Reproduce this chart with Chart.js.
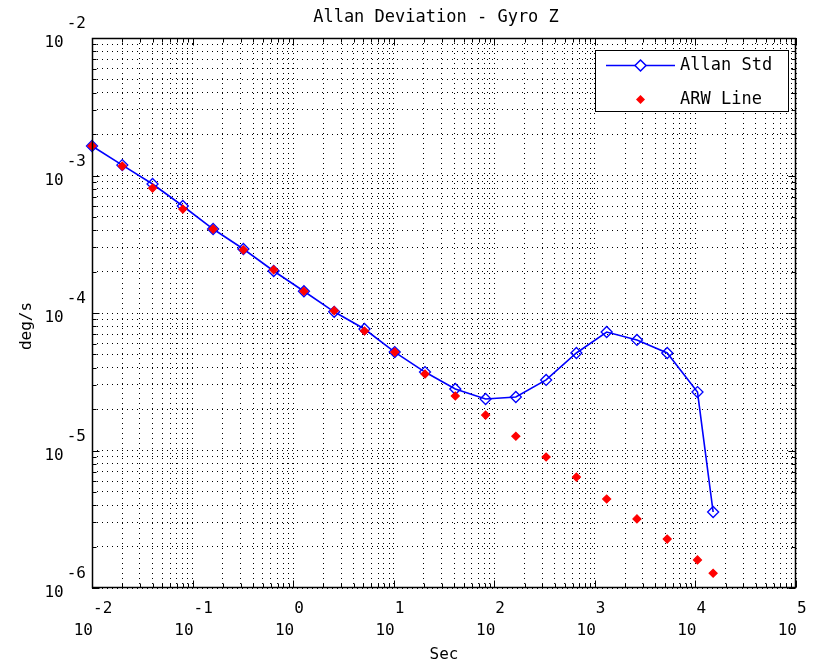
<!DOCTYPE html>
<html>
<head>
<meta charset="utf-8">
<script src="https://cdn.jsdelivr.net/npm/chart.js@4.4.0/dist/chart.umd.min.js"></script>
<style>
  html, body { margin: 0; padding: 0; background: #fff; }
</style>
</head>
<body>
<canvas id="c" width="813" height="666"></canvas>
<script>
// ── DATA ───────────────────────────────────────────────────────
const tau = [0.01, 0.02, 0.04, 0.08, 0.16, 0.32, 0.64, 1.28, 2.56, 5.12, 10.24,
  20.48, 40.96, 81.92, 163.84, 327.68, 655.36, 1310.72, 2621.44, 5242.88, 10485.76, 15000];
const allanStd = [1.64e-3, 1.19e-3, 8.67e-4, 6.0e-4, 4.08e-4, 2.92e-4, 2.02e-4, 1.44e-4,
  1.02e-4, 7.65e-5, 5.2e-5, 3.72e-5, 2.80e-5, 2.37e-5, 2.45e-5, 3.26e-5, 5.12e-5,
  7.27e-5, 6.37e-5, 5.12e-5, 2.66e-5, 3.57e-6];
const arwLine = [1.64e-3, 1.17e-3, 8.1e-4, 5.7e-4, 4.08e-4, 2.88e-4, 2.06e-4, 1.44e-4,
  1.04e-4, 7.4e-5, 5.2e-5, 3.6e-5, 2.49e-5, 1.81e-5, 1.27e-5, 8.97e-6, 6.41e-6,
  4.44e-6, 3.18e-6, 2.27e-6, 1.60e-6, 1.28e-6];
const xDecades = [-2, -1, 0, 1, 2, 3, 4, 5];
const yDecades = [-2, -3, -4, -5, -6];
const seriesNames = ['Allan Std', 'ARW Line'];

const BLUE = '#0000ff';
const RED = '#ff0000';
const MONO = "'DejaVu Sans Mono', monospace";

// every 1..9 x 10^n tick inside the decade range
function logTicks(lo, hi) {
  const out = [];
  for (let n = lo; n < hi; n++) {
    for (let m = 1; m <= 9; m++) out.push({ value: m * Math.pow(10, n) });
  }
  out.push({ value: Math.pow(10, hi) });
  return out;
}
const isMajor = v => Math.abs(Math.log10(v) - Math.round(Math.log10(v))) < 1e-9;

function diamond(ctx, cx, cy, r, fill) {
  ctx.beginPath();
  ctx.moveTo(cx, cy - r); ctx.lineTo(cx + r, cy);
  ctx.lineTo(cx, cy + r); ctx.lineTo(cx - r, cy);
  ctx.closePath();
  if (fill) { ctx.fillStyle = fill; ctx.fill(); }
  else ctx.stroke();
}

// ── MATLAB STYLE FRAME, LABELS, LEGEND ─────────────────────────
const matlabFrame = {
  id: 'matlabFrame',
  afterDraw(chart) {
    const { ctx, chartArea: a, scales: { x, y } } = chart;
    const L = Math.round(a.left) + 0.5, R = Math.round(a.right) - 0.5;
    const T = Math.round(a.top) + 0.5, B = Math.round(a.bottom) - 0.5;
    ctx.save();
    ctx.strokeStyle = '#000';
    ctx.lineWidth = 1;
    ctx.setLineDash([]);

    // inward ticks on all sides
    ctx.beginPath();
    x.ticks.forEach(t => {
      const px = Math.round(x.getPixelForValue(t.value)) + 0.5;
      const len = isMajor(t.value) ? 7 : 4;
      ctx.moveTo(px, B); ctx.lineTo(px, B - len);
      ctx.moveTo(px, T); ctx.lineTo(px, T + len);
    });
    y.ticks.forEach(t => {
      const py = Math.round(y.getPixelForValue(t.value)) + 0.5;
      const len = isMajor(t.value) ? 7 : 4;
      ctx.moveTo(L, py); ctx.lineTo(L + len, py);
      ctx.moveTo(R, py); ctx.lineTo(R - len, py);
    });
    ctx.stroke();
    ctx.lineWidth = 1.5;
    ctx.strokeRect(L, T, R - L, B - T);
    ctx.lineWidth = 1;

    // tick labels: "10" with raised exponent
    ctx.fillStyle = '#000';
    ctx.font = '16px ' + MONO;
    ctx.textBaseline = 'alphabetic';
    xDecades.forEach(d => {
      const px = x.getPixelForValue(Math.pow(10, d));
      ctx.textAlign = 'right';
      ctx.fillText('10', px + 1, 635);
      ctx.textAlign = 'left';
      ctx.fillText(String(d), px + 1, 613);
    });
    yDecades.forEach(d => {
      const py = y.getPixelForValue(Math.pow(10, d));
      ctx.textAlign = 'right';
      ctx.fillText(String(d), 86, py - 10);
      const w = ctx.measureText(String(d)).width;
      ctx.fillText('10', 86 - w - 3, py + 9);
    });

    // titles
    ctx.font = '17px ' + MONO;
    ctx.textAlign = 'center';
    ctx.textBaseline = 'middle';
    const cx = (a.left + a.right) / 2;
    ctx.fillText('Allan Deviation - Gyro Z', cx - 8, 18);
    ctx.font = '16px ' + MONO;
    ctx.fillText('Sec', cx, 655);
    ctx.save();
    ctx.translate(27, (a.top + a.bottom) / 2 + 13);
    ctx.rotate(-Math.PI / 2);
    ctx.fillText('deg/s', 0, 0);
    ctx.restore();

    // legend box
    ctx.fillStyle = '#fff';
    ctx.fillRect(595.5, 50.5, 193, 61);
    ctx.strokeRect(595.5, 50.5, 193, 61);
    ctx.strokeStyle = BLUE;
    ctx.lineWidth = 1.5;
    ctx.beginPath(); ctx.moveTo(606, 65.5); ctx.lineTo(675, 65.5); ctx.stroke();
    diamond(ctx, 640.5, 65.5, 5.5, '#fff');
    diamond(ctx, 640.5, 65.5, 5.5, null);
    ctx.strokeStyle = RED;
    diamond(ctx, 640.5, 99.5, 4.5, RED);
    ctx.fillStyle = '#000';
    ctx.textAlign = 'left';
    ctx.font = '17px ' + MONO;
    ctx.fillText(seriesNames[0], 680, 66);
    ctx.fillText(seriesNames[1], 680, 100);
    ctx.restore();
  }
};

const gridStyle = { color: '#000', lineWidth: 1, drawTicks: false };
const borderStyle = { display: false, dash: [1, 4] };

new Chart(document.getElementById('c'), {
  type: 'line',
  data: {
    datasets: [
      {
        label: seriesNames[0],
        data: tau.map((t, i) => ({ x: t, y: allanStd[i] })),
        borderColor: BLUE,
        borderWidth: 1.6,
        pointStyle: 'rectRot',
        pointRadius: 5.5,
        pointBorderColor: BLUE,
        pointBackgroundColor: 'rgba(0,0,0,0)',
        pointBorderWidth: 1.3,
        tension: 0,
        order: 1,
      },
      {
        label: seriesNames[1],
        data: tau.map((t, i) => ({ x: t, y: arwLine[i] })),
        showLine: false,
        pointStyle: 'rectRot',
        pointRadius: 4,
        pointBorderWidth: 1.2,
        pointBackgroundColor: RED,
        pointBorderColor: RED,
        order: 0,
      },
    ],
  },
  options: {
    responsive: false,
    animation: false,
    clip: false,
    layout: { padding: { left: 92, right: 17, top: 38, bottom: 78 } },
    plugins: { legend: { display: false }, tooltip: { enabled: false }, title: { display: false } },
    scales: {
      x: {
        type: 'logarithmic', min: 1e-2, max: 1e5,
        afterBuildTicks: s => { s.ticks = logTicks(-2, 5); },
        ticks: { display: false },
        grid: gridStyle,
        border: borderStyle,
      },
      y: {
        type: 'logarithmic', min: 1e-6, max: 1e-2,
        afterBuildTicks: s => { s.ticks = logTicks(-6, -2); },
        ticks: { display: false },
        grid: gridStyle,
        border: borderStyle,
      },
    },
  },
  plugins: [matlabFrame],
});
</script>
</body>
</html>
